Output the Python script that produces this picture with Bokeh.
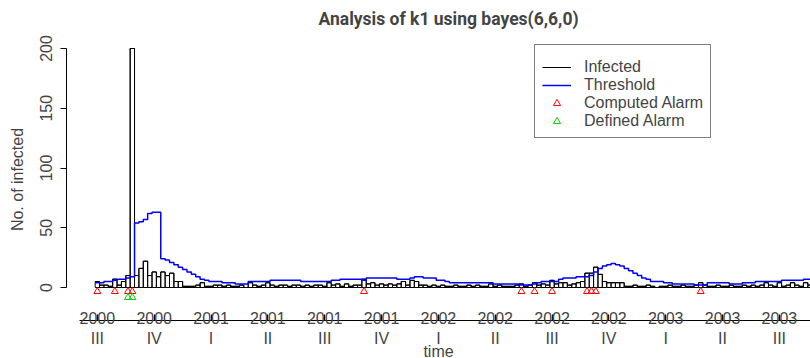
import numpy as np
from bokeh.plotting import figure
from bokeh.models import Range1d, FixedTicker, LinearAxis, Legend, LegendItem, ColumnDataSource
from bokeh.embed import file_html
from bokeh.resources import INLINE

# ---------------- data ----------------
weeks = list(range(164))
infected = [5, 2, 2, 1, 7, 2, 5, 10, 200,
            10, 16, 22, 10, 13, 9, 13, 10, 12, 5, 5,
            1, 1, 1, 2, 4, 1, 1, 2, 2, 1,
            2, 1, 1, 2, 0, 4, 2, 1, 2, 4,
            2, 1, 2, 2, 1, 2, 2, 1, 2, 1,
            2, 2, 1, 4, 2, 3, 1, 3, 1, 2,
            2, 7, 3, 4, 2, 3, 2, 3, 2, 3,
            5, 2, 6, 5, 2, 2, 1, 2, 1, 2,
            1, 1, 2, 1, 1, 2, 1, 2, 1, 1,
            3, 1, 2, 1, 1, 1, 2, 3, 1, 2,
            4, 2, 3, 2, 6, 3, 4, 4, 2, 3,
            4, 5, 12, 12, 17, 11, 5, 4, 4, 4,
            4, 1, 1, 2, 1, 1, 2, 1, 0, 1,
            1, 2, 1, 1, 2, 1, 1, 2, 4, 2,
            1, 1, 2, 1, 1, 2, 1, 1, 2, 1,
            2, 1, 2, 4, 2, 1, 4, 1, 2, 4,
            2, 1, 4, 2]
threshold = [4, 4, 5, 5, 6, 7, 7, 8, 9,
             54, 55, 57, 62, 63, 63,
             24, 23, 21, 19, 17, 15, 13, 11, 9, 7, 6, 5, 5, 5, 4,
             4, 4, 3, 3, 3, 5, 5, 5, 5, 5,
             6, 6, 6, 6, 6, 6, 6, 5, 5, 5,
             5, 5, 5, 5, 6, 6, 7, 7, 7, 7,
             7, 6, 8, 8, 8, 8, 8, 8, 8, 7,
             7, 7, 8, 9, 9, 8, 8, 8, 6, 6,
             5, 4, 4, 4, 4, 4, 4, 4, 4, 4,
             4, 3, 3, 3, 3, 3, 3, 2, 2, 2,
             3, 4, 5, 5, 5, 5, 7, 8, 8, 8,
             9, 9, 9, 10, 13, 16, 18, 19, 20, 19,
             18, 16, 14, 12, 10, 8, 7, 5, 5, 5,
             4, 4, 3, 3, 3, 3, 3, 2, 2, 2,
             4, 4, 4, 4, 4, 3, 3, 3, 4, 4,
             4, 5, 5, 5, 5, 5, 5, 6, 6, 6,
             6, 6, 7, 7]
computed_alarm_weeks = [0, 4, 7, 8, 61, 97, 100, 104, 112, 113, 114, 138]
defined_alarm_weeks = [7, 8]
tick_weeks = [0, 13, 26, 39, 52, 65, 78, 91, 104, 117, 130, 143, 156]
tick_years = ["2000", "2000", "2001", "2001", "2001", "2001", "2002",
              "2002", "2002", "2002", "2003", "2003", "2003"]
tick_quarters = ["III", "IV", "I", "II", "III", "IV", "I", "II", "III",
                 "IV", "I", "II", "III"]
y_ticks = [0, 50, 100, 150, 200]

FONT = "Liberation Sans"
FS = "16px"

# ---------------- figure ----------------
n = len(weeks)
x_start = -0.5 - 0.04 * n
px_per_week = 4.372
frame_w = 744
frame_h = 282
y_max = max(y_ticks)
px_per_unit = 1.195

p = figure(frame_width=frame_w, frame_height=frame_h, output_backend="svg",
           toolbar_location=None,
           x_range=Range1d(x_start, x_start + frame_w / px_per_week),
           y_range=Range1d(-33 / px_per_unit, y_max + 10 / px_per_unit),
           min_border_left=66, min_border_right=0, min_border_top=38,
           min_border_bottom=0, x_axis_type=None, y_axis_type=None)
p.outline_line_color = None
p.background_fill_color = "white"
p.border_fill_color = "white"

p.title.text = "Analysis of k1 using bayes(6,6,0)"
p.title.align = "left"
p.title.offset = 252
p.title.standoff = 15
p.title.vertical_align = "top"
p.title.text_font = "Roboto"
p.title.text_font_size = "17.5px"
p.title.text_font_style = "bold"

# bars
bars = ColumnDataSource(dict(left=[w - 0.5 for w in weeks], right=[w + 0.5 for w in weeks],
                             top=infected, bottom=[0] * n))
p.quad(left="left", right="right", top="top", bottom="bottom", source=bars,
       fill_color=None, line_color="black", line_width=1)

step_x = [v for w in weeks for v in (w - 0.5, w + 0.5)]
inf_y = [v for t in infected for v in (t, t)]
thr_y = [v for t in threshold for v in (t, t)]
r_inf = p.line(step_x, inf_y, line_color="black", line_width=1)
r_thr = p.line(step_x, thr_y, line_color="blue", line_width=1.5)

r_comp = p.scatter(computed_alarm_weeks, [-y_max / 60] * len(computed_alarm_weeks),
                   marker="triangle", size=7, fill_color=None, line_color="red", line_width=1)
r_def = p.scatter(defined_alarm_weeks, [-y_max / 24] * len(defined_alarm_weeks),
                  marker="triangle", size=7, fill_color=None, line_color="#00CD00", line_width=1)

# y axis
yax = LinearAxis(ticker=FixedTicker(ticks=y_ticks), bounds=(0, y_max),
                 axis_label="No. of infected")
yax.major_label_orientation = "vertical"
yax.major_tick_in = 0
yax.major_tick_out = 6
yax.minor_tick_line_color = None
yax.major_label_standoff = 9
yax.axis_label_standoff = 11
yax.major_label_text_font = FONT
yax.major_label_text_font_size = FS
yax.axis_label_text_font = FONT
yax.axis_label_text_font_size = FS
yax.axis_label_text_font_style = "normal"
p.add_layout(yax, "left")

# x axis: years
xax = LinearAxis(ticker=FixedTicker(ticks=tick_weeks),
                 major_label_overrides={w: s for w, s in zip(tick_weeks, tick_years)},
                 bounds=(-4, 170))
xax.major_tick_in = 6
xax.major_tick_out = 0
xax.minor_tick_line_color = None
xax.major_label_standoff = -9
xax.major_label_text_font = FONT
xax.major_label_text_font_size = FS
p.add_layout(xax, "below")

# x axis: quarters + label
xq = LinearAxis(ticker=FixedTicker(ticks=tick_weeks),
                major_label_overrides={w: s for w, s in zip(tick_weeks, tick_quarters)},
                axis_label="time")
xq.axis_line_color = None
xq.major_tick_line_color = None
xq.minor_tick_line_color = None
xq.major_label_standoff = -3
xq.major_label_text_font = FONT
xq.major_label_text_font_size = FS
xq.axis_label_standoff = -7
xq.axis_label_text_font = FONT
xq.axis_label_text_font_size = FS
xq.axis_label_text_font_style = "normal"
p.add_layout(xq, "below")

legend = Legend(items=[LegendItem(label="Infected", renderers=[r_inf]),
                       LegendItem(label="Threshold", renderers=[r_thr]),
                       LegendItem(label="Computed Alarm", renderers=[r_comp]),
                       LegendItem(label="Defined Alarm", renderers=[r_def])],
                location=(468, 182))
legend.title = " "
legend.title_text_font_size = "1px"
legend.title_standoff = 5
legend.padding = 7
legend.spacing = 0
legend.margin = 0
legend.glyph_width = 29
legend.glyph_height = 18
legend.label_height = 18
legend.label_standoff = 13
legend.label_text_font = FONT
legend.label_text_font_size = FS
legend.border_line_color = "black"
legend.border_line_width = 1
legend.background_fill_alpha = 1
p.add_layout(legend)

open("out.html", "w").write(file_html(p, INLINE))
